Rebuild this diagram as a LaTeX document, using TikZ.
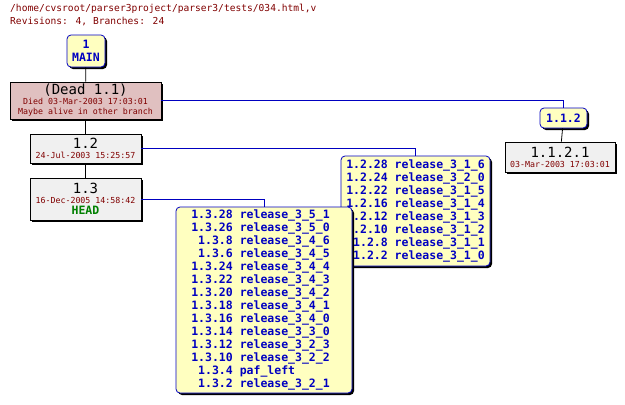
\documentclass[tikz,border=0pt]{standalone}
\usepackage{fontspec}
\newfontfamily\cvsmono{DejaVu Sans Mono}
\usetikzlibrary{shadows}
\definecolor{cvsred}{HTML}{800000}
\definecolor{cvsblue}{HTML}{0000C0}
\definecolor{cvsyellow}{HTML}{FFFFC0}
\definecolor{cvsgrey}{HTML}{F0F0F0}
\definecolor{cvsdead}{HTML}{E0C0C0}
\definecolor{cvsgreen}{HTML}{008000}
\tikzset{
  rev/.style={draw=black, thick, fill=cvsgrey, inner sep=0pt, align=center,
    drop shadow={shadow xshift=2pt, shadow yshift=-2pt, fill=black, opacity=1}},
  branch/.style={draw=cvsblue, thick, fill=cvsyellow, rounded corners=4pt, inner sep=0pt,
    align=center, drop shadow={shadow xshift=2pt, shadow yshift=-2pt, fill=black, opacity=1}},
  big/.style={font=\cvsmono\fontsize{14}{15}\selectfont},
  small/.style={font=\cvsmono\fontsize{8.3}{10}\selectfont},
  tag/.style={font=\cvsmono\bfseries\fontsize{11.5}{13}\selectfont, text=cvsblue},
  link/.style={cvsblue, thick},
  trunk/.style={black, thick}
}
\begin{document}
\begin{tikzpicture}[x=1pt, y=-1pt]
    \useasboundingbox (0,0) rectangle (625,405);
    % File header
    \node[anchor=north west, inner sep=0pt, align=left, text=cvsred,
      font=\cvsmono\fontsize{9.6}{13}\selectfont] (head) at (10,4)
      {/home/cvsroot/parser3project/parser3/tests/034.html,v\\Revisions: 4, Branches: 24};

    % Trunk
    \node[branch, tag, minimum width=38pt, minimum height=32pt] (main) at (86,51)
      {1\\MAIN};
    \node[rev, fill=cvsdead, minimum width=151pt, minimum height=37pt] (dead) at (85.5,100.5)
      {{\cvsmono\fontsize{14}{14}\selectfont(Dead 1.1)}\\[-2pt]
       {\cvsmono\fontsize{8.3}{9}\selectfont\color{cvsred}Died 03-Mar-2003 17:03:01}\\[-2pt]
       {\cvsmono\fontsize{8.3}{9}\selectfont\color{cvsred}Maybe alive in other branch}};
    \node[rev, minimum width=111pt, minimum height=29pt] (r12) at (85.5,148.5)
      {{\cvsmono\fontsize{14}{14}\selectfont 1.2}\\[-2pt]
       {\cvsmono\fontsize{8.3}{9}\selectfont\color{cvsred}24-Jul-2003 15:25:57}};
    \node[rev, minimum width=111pt, minimum height=42pt] (r13) at (85.5,199)
      {{\cvsmono\fontsize{14}{14}\selectfont 1.3}\\[-2pt]
       {\cvsmono\fontsize{8.3}{9}\selectfont\color{cvsred}16-Dec-2005 14:58:42}\\[-1pt]
       {\cvsmono\bfseries\fontsize{11.5}{12}\selectfont\color{cvsgreen}HEAD}};

    % Branch 1.1.2
    \node[branch, tag, minimum width=47pt, minimum height=20pt] (b112) at (563.5,118) {1.1.2};
    \node[rev, minimum width=110pt, minimum height=30pt] (r1121) at (560,157)
      {{\cvsmono\fontsize{14}{14}\selectfont 1.1.2.1}\\[-2pt]
       {\cvsmono\fontsize{8.3}{9}\selectfont\color{cvsred}03-Mar-2003 17:03:01}};

    % Tag boxes
    \node[branch, tag, minimum width=149pt, minimum height=110pt] (b31) at (415.5,211)
      {\begin{tabular}{@{}r@{ }l@{}}
       1.2.28 & release\_3\_1\_6\\ 1.2.24 & release\_3\_2\_0\\
       1.2.22 & release\_3\_1\_5\\ 1.2.16 & release\_3\_1\_4\\
       1.2.12 & release\_3\_1\_3\\ 1.2.10 & release\_3\_1\_2\\
       1.2.8 & release\_3\_1\_1\\ 1.2.2 & release\_3\_1\_0
       \end{tabular}};
    \node[branch, tag, minimum width=176pt, minimum height=186pt] (b35) at (264,300)
      {\begin{tabular}{@{}r@{ }l@{}}
       1.3.28 & release\_3\_5\_1\\ 1.3.26 & release\_3\_5\_0\\
       1.3.8 & release\_3\_4\_6\\ 1.3.6 & release\_3\_4\_5\\
       1.3.24 & release\_3\_4\_4\\ 1.3.22 & release\_3\_4\_3\\
       1.3.20 & release\_3\_4\_2\\ 1.3.18 & release\_3\_4\_1\\
       1.3.16 & release\_3\_4\_0\\ 1.3.14 & release\_3\_3\_0\\
       1.3.12 & release\_3\_2\_3\\ 1.3.10 & release\_3\_2\_2\\
       1.3.4 & paf\_left\hphantom{\_3\_2\_1}\\ 1.3.2 & release\_3\_2\_1
       \end{tabular}};

    % Connectors
    \draw[trunk] (main) -- (dead);
    \draw[trunk] (dead) -- (r12);
    \draw[trunk] (r12) -- (r13);
    \draw[trunk] (b112) -- (r1121);
    \draw[link] (dead.east) -| (b112.north);
    \draw[link] (r12.east) -| (b31.north);
    \draw[link] (r13.east) -| (b35.north);
\end{tikzpicture}
\end{document}
